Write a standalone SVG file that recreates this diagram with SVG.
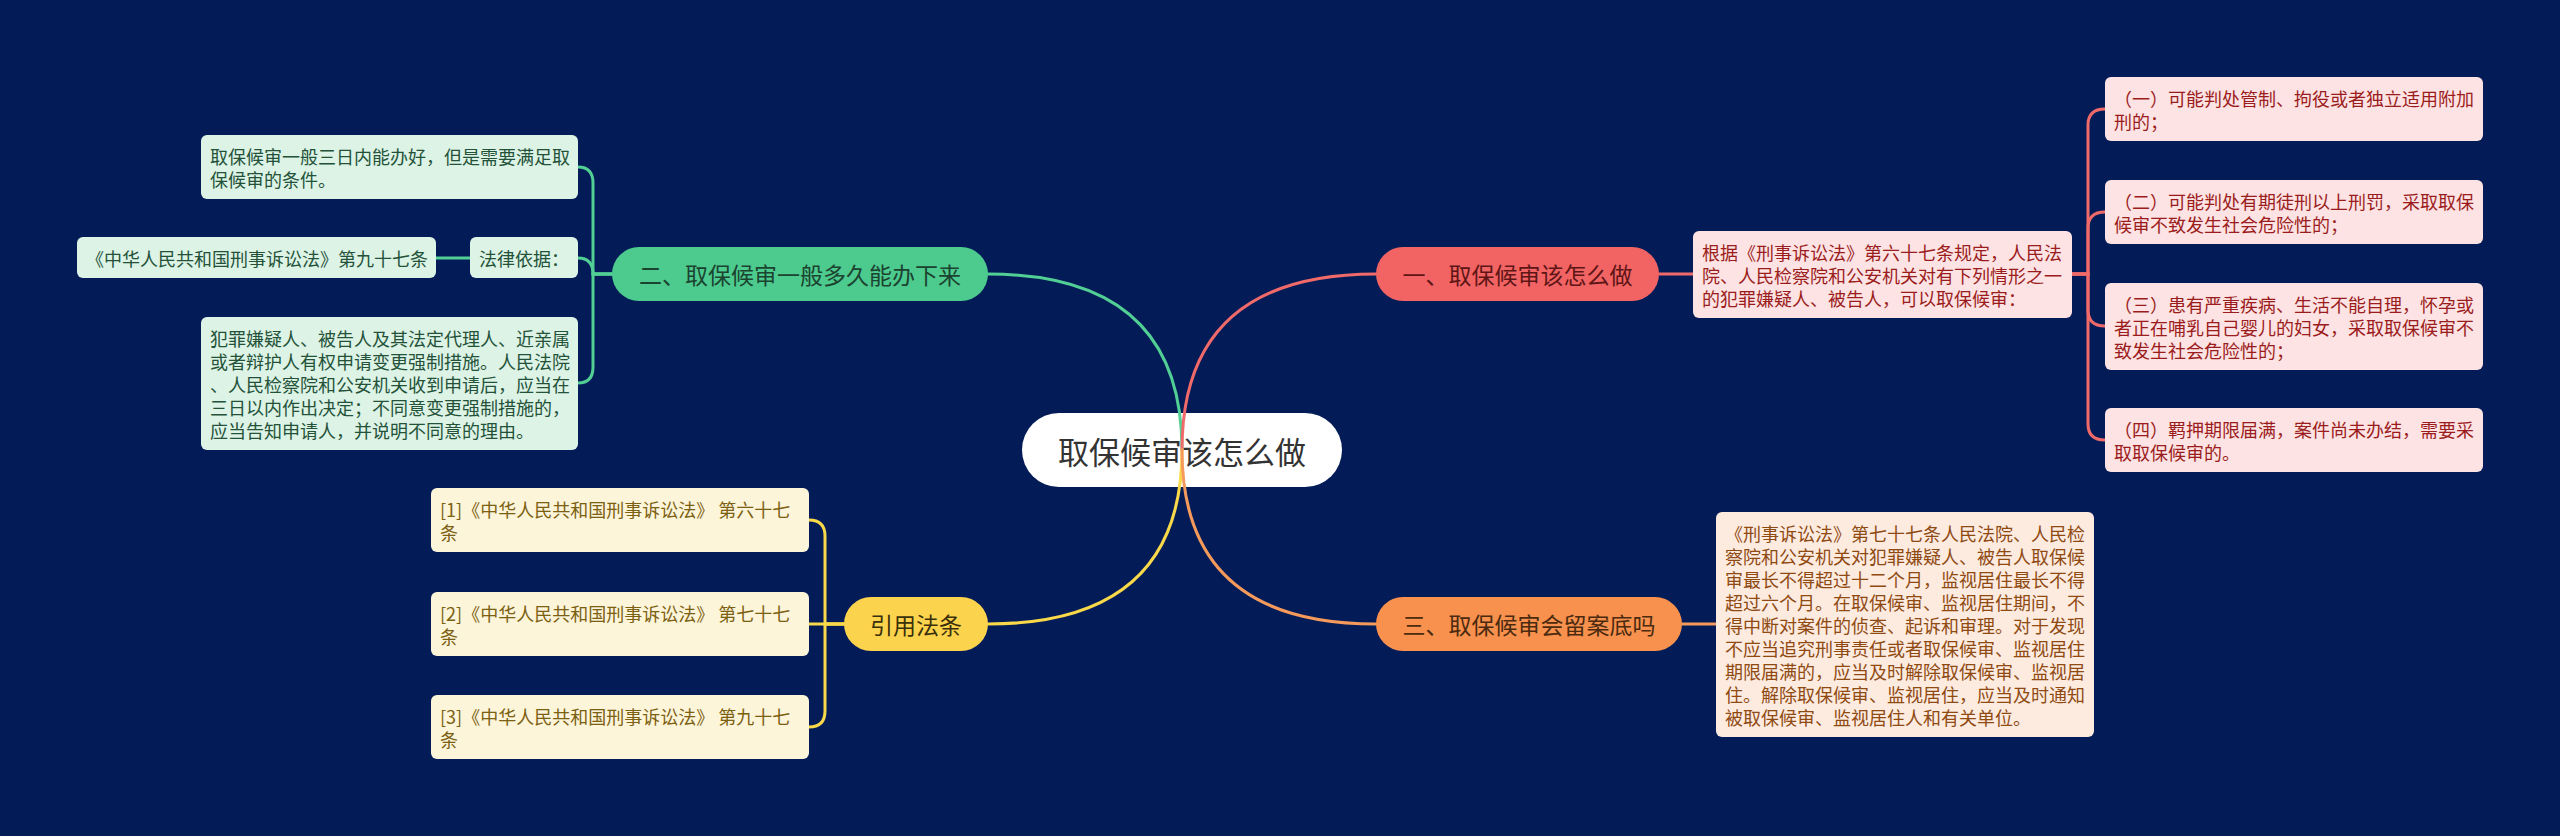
<svg xmlns="http://www.w3.org/2000/svg" width="2560" height="836" viewBox="0 0 2560 836">
<style>
text{font-family:"Noto Sans CJK SC","Noto Sans",sans-serif;dominant-baseline:central}
.d{font-size:18px}
.m{font-size:23px}
.c{font-size:31px;fill:#333333}
.gb{fill:#dcf3e6}.gt{fill:#245239}
.rb{fill:#fde3e3}.rt{fill:#9b1c1c}
.ob{fill:#fdebe0}.ot{fill:#8f4a12}
.yb{fill:#fdf5d9}.yt{fill:#7b6012}
.ln{fill:none;stroke-width:3;stroke-linecap:round}
.lg{stroke:#52cf94}.lr{stroke:#f06a6a}.lo{stroke:#f59a5b}.ly{stroke:#f9d849}
</style>
<rect width="2560" height="836" fill="#031c58"/>

<g id="center">
<rect x="1022" y="413" width="320" height="74" rx="37" fill="#ffffff"/>
<text class="c" x="1182" y="450" text-anchor="middle">取保候审该怎么做</text>
</g>

<g id="connectors">
<path class="ln lg" d="M1182 450 Q1182 274 988 274"/>
<path class="ln lr" d="M1182 450 Q1182 274 1376 274"/>
<path class="ln ly" d="M1182 450 Q1182 624 988 624"/>
<path class="ln lo" d="M1182 450 Q1182 624 1376 624"/>
<!-- green children -->
<path class="ln lg" d="M612 274 H593 V183 Q593 167 578 167"/>
<path class="ln lg" d="M612 274 H593 Q593 258 578 258"/>
<path class="ln lg" d="M612 274 H593 V367 Q593 383 578 383"/>
<path class="ln lg" d="M470 258 H436"/>
<!-- red children -->
<path class="ln lr" d="M1659 274 H1693"/>
<path class="ln lr" d="M2072 274 H2088 V125 Q2088 109 2105 109"/>
<path class="ln lr" d="M2072 274 H2088 V228 Q2088 212 2105 212"/>
<path class="ln lr" d="M2072 274 H2088 V310 Q2088 326 2105 326"/>
<path class="ln lr" d="M2072 274 H2088 V424 Q2088 440 2105 440"/>
<!-- orange -->
<path class="ln lo" d="M1682 624 H1716"/>
<!-- yellow children -->
<path class="ln ly" d="M844 624 H825 V536 Q825 520 809 520"/>
<path class="ln ly" d="M844 624 H809"/>
<path class="ln ly" d="M844 624 H825 V711 Q825 727 809 727"/>
</g>

<g id="branch-green">
<rect x="612" y="247" width="376" height="54" rx="27" fill="#4dcb8e"/>
<text class="m" x="800" y="274" text-anchor="middle" fill="#1b4330">二、取保候审一般多久能办下来</text>
</g>
<g id="g-note1">
<rect class="gb" x="201" y="135" width="377" height="64" rx="6"/>
<text class="d gt"><tspan x="210" y="155.5">取保候审一般三日内能办好，但是需要满足取</tspan><tspan x="210" y="178.5">保候审的条件。</tspan></text>
</g>
<g id="g-basis">
<rect class="gb" x="470" y="237" width="108" height="41" rx="6"/>
<text class="d gt" x="479" y="257.5">法律依据：</text>
</g>
<g id="g-law">
<rect class="gb" x="77" y="237" width="359" height="41" rx="6"/>
<text class="d gt" x="86" y="257.5">《中华人民共和国刑事诉讼法》第九十七条</text>
</g>
<g id="g-note2">
<rect class="gb" x="201" y="317" width="377" height="133" rx="6"/>
<text class="d gt"><tspan x="210" y="337.5">犯罪嫌疑人、被告人及其法定代理人、近亲属</tspan><tspan x="210" y="360.5">或者辩护人有权申请变更强制措施。人民法院</tspan><tspan x="210" y="383.5">、人民检察院和公安机关收到申请后，应当在</tspan><tspan x="210" y="406.5">三日以内作出决定；不同意变更强制措施的，</tspan><tspan x="210" y="429.5">应当告知申请人，并说明不同意的理由。</tspan></text>
</g>

<g id="branch-red">
<rect x="1376" y="247" width="283" height="54" rx="27" fill="#f26464"/>
<text class="m" x="1517.5" y="274" text-anchor="middle" fill="#5e1515">一、取保候审该怎么做</text>
</g>
<g id="r-detail">
<rect class="rb" x="1693" y="231" width="379" height="87" rx="6"/>
<text class="d rt"><tspan x="1702" y="251.5">根据《刑事诉讼法》第六十七条规定，人民法</tspan><tspan x="1702" y="274.5">院、人民检察院和公安机关对有下列情形之一</tspan><tspan x="1702" y="297.5">的犯罪嫌疑人、被告人，可以取保候审：</tspan></text>
</g>
<g id="r-item1">
<rect class="rb" x="2105" y="77" width="378" height="64" rx="6"/>
<text class="d rt"><tspan x="2114" y="97.5">（一）可能判处管制、拘役或者独立适用附加</tspan><tspan x="2114" y="120.5">刑的；</tspan></text>
</g>
<g id="r-item2">
<rect class="rb" x="2105" y="180" width="378" height="64" rx="6"/>
<text class="d rt"><tspan x="2114" y="200.5">（二）可能判处有期徒刑以上刑罚，采取取保</tspan><tspan x="2114" y="223.5">候审不致发生社会危险性的；</tspan></text>
</g>
<g id="r-item3">
<rect class="rb" x="2105" y="283" width="378" height="87" rx="6"/>
<text class="d rt"><tspan x="2114" y="303.5">（三）患有严重疾病、生活不能自理，怀孕或</tspan><tspan x="2114" y="326.5">者正在哺乳自己婴儿的妇女，采取取保候审不</tspan><tspan x="2114" y="349.5">致发生社会危险性的；</tspan></text>
</g>
<g id="r-item4">
<rect class="rb" x="2105" y="408" width="378" height="64" rx="6"/>
<text class="d rt"><tspan x="2114" y="428.5">（四）羁押期限届满，案件尚未办结，需要采</tspan><tspan x="2114" y="451.5">取取保候审的。</tspan></text>
</g>

<g id="branch-orange">
<rect x="1376" y="597" width="306" height="54" rx="27" fill="#f7914d"/>
<text class="m" x="1529" y="624" text-anchor="middle" fill="#4b2a10">三、取保候审会留案底吗</text>
</g>
<g id="o-detail">
<rect class="ob" x="1716" y="512" width="378" height="225" rx="6"/>
<text class="d ot"><tspan x="1725" y="532.5">《刑事诉讼法》第七十七条人民法院、人民检</tspan><tspan x="1725" y="555.5">察院和公安机关对犯罪嫌疑人、被告人取保候</tspan><tspan x="1725" y="578.5">审最长不得超过十二个月，监视居住最长不得</tspan><tspan x="1725" y="601.5">超过六个月。在取保候审、监视居住期间，不</tspan><tspan x="1725" y="624.5">得中断对案件的侦查、起诉和审理。对于发现</tspan><tspan x="1725" y="647.5">不应当追究刑事责任或者取保候审、监视居住</tspan><tspan x="1725" y="670.5">期限届满的，应当及时解除取保候审、监视居</tspan><tspan x="1725" y="693.5">住。解除取保候审、监视居住，应当及时通知</tspan><tspan x="1725" y="716.5">被取保候审、监视居住人和有关单位。</tspan></text>
</g>

<g id="branch-yellow">
<rect x="844" y="597" width="144" height="54" rx="27" fill="#fcd34d"/>
<text class="m" x="916" y="624" text-anchor="middle" fill="#3a300a">引用法条</text>
</g>
<g id="y-ref1">
<rect class="yb" x="431" y="488" width="378" height="64" rx="6"/>
<text class="d yt"><tspan x="440" y="508.5">[1]《中华人民共和国刑事诉讼法》 第六十七</tspan><tspan x="440" y="531.5">条</tspan></text>
</g>
<g id="y-ref2">
<rect class="yb" x="431" y="592" width="378" height="64" rx="6"/>
<text class="d yt"><tspan x="440" y="612.5">[2]《中华人民共和国刑事诉讼法》 第七十七</tspan><tspan x="440" y="635.5">条</tspan></text>
</g>
<g id="y-ref3">
<rect class="yb" x="431" y="695" width="378" height="64" rx="6"/>
<text class="d yt"><tspan x="440" y="715.5">[3]《中华人民共和国刑事诉讼法》 第九十七</tspan><tspan x="440" y="738.5">条</tspan></text>
</g>
</svg>
